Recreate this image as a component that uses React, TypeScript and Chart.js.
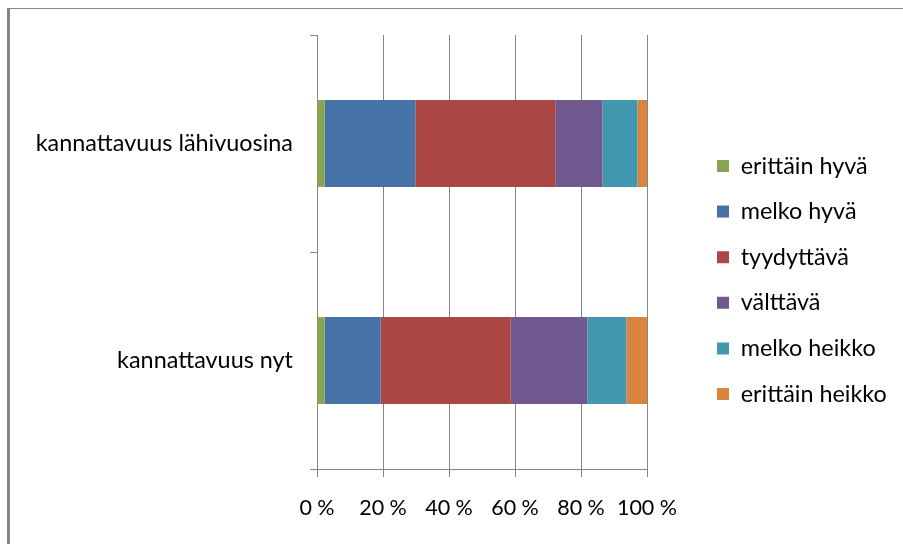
import React, { useEffect, useRef } from "react";
import { Chart, registerables } from "chart.js";

Chart.register(...registerables);

const categories = ["kannattavuus lähivuosina", "kannattavuus nyt"];
const seriesNames = [
  "erittäin hyvä",
  "melko hyvä",
  "tyydyttävä",
  "välttävä",
  "melko heikko",
  "erittäin heikko",
];
const erittainHyva = [2.3, 2.3];
const melkoHyva = [27.5, 17.0];
const tyydyttava = [42.4, 39.4];
const valttava = [14.3, 23.2];
const melkoHeikko = [10.6, 11.9];
const erittainHeikko = [2.9, 6.2];
const xTickValues = [0, 20, 40, 60, 80, 100];

const seriesValues = [erittainHyva, melkoHyva, tyydyttava, valttava, melkoHeikko, erittainHeikko];
const colors = ["#89A54E", "#4572A7", "#AA4643", "#71588F", "#4198AF", "#DB843D"];

const FONT = "Lato";
const FS = 23.4;
const XFS = 21.5;
const GRID = "#868686";
const LEG_ROW = 45.6;
const LEG_PAD = LEG_ROW - FS;

const legendPlacer = {
  id: "legendPlacer",
  beforeLayout(chart: any) {
    const lg = chart.legend;
    if (lg && !lg.__patched) {
      const orig = lg.fit;
      lg.fit = function () {
        orig.call(this);
        this.width = 256;
      };
      lg.__patched = true;
    }
  },
  afterLayout(chart: any) {
    const lg = chart.legend;
    if (!lg) return;
    const ca = chart.chartArea;
    lg.left = ca.right + 70 - LEG_PAD;
    lg.right = lg.left + lg.width;
    lg.top = ca.top + 131 - FS / 2 - LEG_PAD;
    lg.bottom = lg.top + 320;
  },
};

export default function App() {
  const ref = useRef<HTMLCanvasElement | null>(null);

  useEffect(() => {
    if (!ref.current) return;
    const chart = new Chart(ref.current, {
      type: "bar",
      data: {
        labels: categories,
        datasets: seriesNames.map((name, i) => ({
          label: name,
          data: seriesValues[i],
          backgroundColor: colors[i],
          borderWidth: 0,
          categoryPercentage: 0.8,
          barPercentage: 0.5,
        })),
      },
      options: {
        indexAxis: "y",
        responsive: false,
        animation: false,
        devicePixelRatio: 1,
        layout: { padding: { top: 35, left: 0, right: 0, bottom: 0 } },
        plugins: {
          tooltip: { enabled: false },
          legend: {
            position: "right",
            align: "start",
            labels: {
              boxWidth: 12,
              boxHeight: 12,
              padding: LEG_PAD,
              color: "#000",
              font: { family: FONT, size: FS },
            },
          },
        },
        scales: {
          x: {
            stacked: true,
            min: 0,
            max: 100,
            afterBuildTicks: (scale: any) => {
              scale.ticks = xTickValues.map((v) => ({ value: v }));
            },
            afterFit: (scale: any) => {
              scale.height = 75;
            },
            ticks: {
              color: "#000",
              padding: 18,
              autoSkip: false,
              maxRotation: 0,
              minRotation: 0,
              font: { family: FONT, size: XFS },
              callback: (v: any) => v + " %",
            },
            grid: {
              color: GRID,
              lineWidth: 1,
              drawTicks: true,
              tickLength: 8,
              tickColor: GRID,
            },
            border: { display: true, color: GRID, width: 1 },
          },
          y: {
            stacked: true,
            afterFit: (scale: any) => {
              scale.width = 317;
            },
            ticks: {
              color: "#000",
              padding: 17,
              font: { family: FONT, size: FS },
            },
            grid: {
              offset: true,
              drawOnChartArea: false,
              drawTicks: true,
              tickLength: 7,
              tickColor: GRID,
              color: GRID,
            },
            border: { display: true, color: GRID, width: 1 },
          },
        },
      } as any,
      plugins: [legendPlacer],
    });
    return () => chart.destroy();
  }, []);

  return (
    <div style={{ position: "absolute", left: 0, top: 0, width: 903, height: 544, overflow: "hidden", background: "#fff" }}>
      <div
        style={{
          position: "absolute",
          left: 7,
          top: 8,
          width: 920,
          height: 560,
          borderLeft: "3px solid #858585",
          borderTop: "1px solid #858585",
        }}
      />
      <canvas
        ref={ref}
        width={903}
        height={544}
        style={{ position: "absolute", left: 0, top: 0, width: 903, height: 544, display: "block" }}
      />
    </div>
  );
}
